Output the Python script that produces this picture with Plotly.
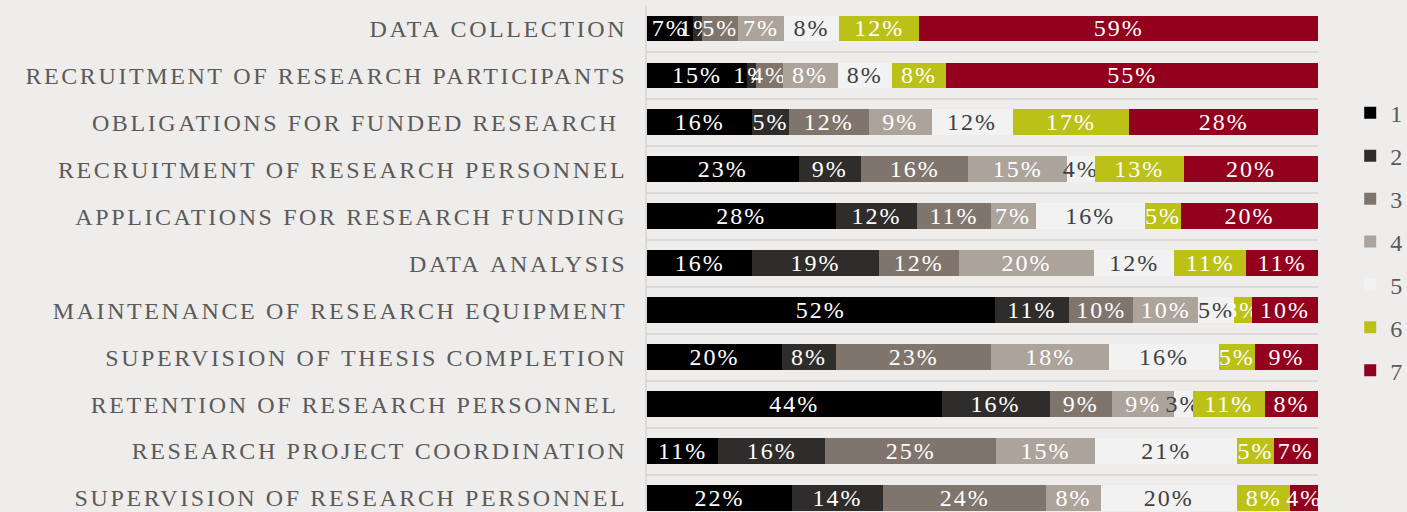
import plotly.graph_objects as go

categories = [
    "DATA COLLECTION",
    "RECRUITMENT OF RESEARCH PARTICIPANTS",
    "OBLIGATIONS FOR FUNDED RESEARCH ",
    "RECRUITMENT OF RESEARCH PERSONNEL",
    "APPLICATIONS FOR RESEARCH FUNDING",
    "DATA ANALYSIS",
    "MAINTENANCE OF RESEARCH EQUIPMENT",
    "SUPERVISION OF THESIS COMPLETION",
    "RETENTION OF RESEARCH PERSONNEL ",
    "RESEARCH PROJECT COORDINATION",
    "SUPERVISION OF RESEARCH PERSONNEL",
]

series_names = ["1", "2", "3", "4", "5", "6", "7"]

s1 = [6.8, 14.9, 15.7, 22.6, 28.1, 15.7, 51.8, 20.1, 43.9, 10.6, 21.6]
s2 = [1.4, 1.3, 5.4, 9.3, 12.2, 18.8, 11.1, 8.1, 16.1, 16.0, 13.6]
s3 = [5.4, 4.0, 12.0, 16.0, 10.9, 12.0, 9.6, 23.1, 9.3, 25.4, 24.3]
s4 = [6.8, 8.2, 9.3, 14.7, 6.7, 20.1, 9.6, 17.6, 9.3, 14.8, 8.1]
s5 = [8.2, 8.1, 12.1, 4.1, 16.3, 12.0, 5.4, 16.3, 2.7, 21.2, 20.3]
s6 = [12.0, 8.1, 17.4, 13.3, 5.4, 10.7, 2.7, 5.4, 10.8, 5.4, 8.0]
s7 = [59.4, 55.4, 28.1, 20.0, 20.4, 10.7, 9.8, 9.4, 7.9, 6.6, 4.1]
series_values = [s1, s2, s3, s4, s5, s6, s7]

colors = ["#000000", "#2e2d2b", "#7f756d", "#aca49b", "#f2f2f2", "#bcc118", "#93001d"]
text_colors = ["#ffffff", "#ffffff", "#ffffff", "#ffffff", "#404040", "#ffffff", "#ffffff"]

SERIF = "Liberation Serif, Times New Roman, serif"
BG = "#eeedeb"
GRID = "#dbdad8"

fig = go.Figure()
for name, vals, col, tcol in zip(series_names, series_values, colors, text_colors):
    fig.add_trace(go.Bar(
        y=categories,
        x=vals,
        name=name,
        orientation="h",
        marker=dict(color=col, line=dict(width=0)),
        texttemplate="<span style='letter-spacing:2px'>%{x:.0f}%</span>",
        textposition="inside",
        insidetextanchor="middle",
        textangle=0,
        constraintext="none",
        insidetextfont=dict(family=SERIF, size=24, color=tcol),
        legendgroup=name,
        hoverinfo="skip",
    ))

ticktext = [
    "<span style='letter-spacing:2.6px'>" + c.replace(" ", "\u00a0") + "</span>"
    for c in categories
]

fig.update_layout(
    width=1407,
    height=512,
    barmode="stack",
    bargap=0.45,
    paper_bgcolor=BG,
    plot_bgcolor=BG,
    margin=dict(l=647, r=89, t=5, b=0, autoexpand=False),
    font=dict(family=SERIF, size=22, color="#595959"),
    xaxis=dict(range=[0, 100], visible=False, showgrid=False, zeroline=False),
    yaxis=dict(
        type="category",
        range=[10.298, -0.5],
        tickmode="array",
        tickvals=categories,
        ticktext=ticktext,
        tickson="boundaries",
        ticks="",
        showgrid=True,
        gridcolor=GRID,
        gridwidth=2,
        showline=True,
        linecolor=GRID,
        linewidth=2,
        ticklabelstandoff=13,
        tickfont=dict(family=SERIF, size=24, color="#5a5a5a"),
    ),
    legend=dict(
        x=1.048,
        xanchor="left",
        y=0.533,
        yanchor="middle",
        traceorder="grouped",
        tracegroupgap=8.7,
        font=dict(family=SERIF, size=24, color="#5a5a5a"),
        bgcolor="rgba(0,0,0,0)",
    ),
    showlegend=True,
)

fig.write_html("out.html")
